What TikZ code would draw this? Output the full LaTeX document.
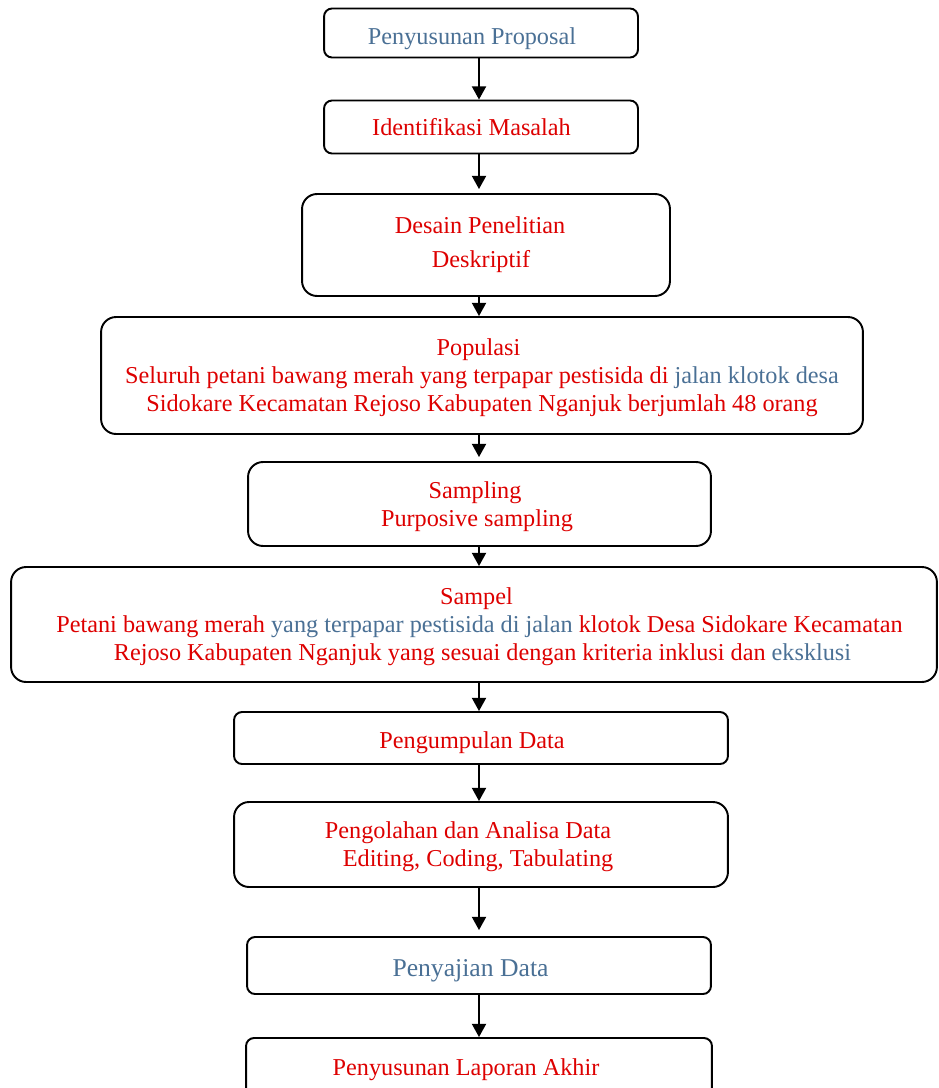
\documentclass[tikz,border=0pt]{standalone}
\usepackage{fontspec}
\setmainfont{Liberation Serif}
\usepackage{tikz}
\usetikzlibrary{arrows.meta}
\usepackage{xcolor}
\definecolor{textred}{HTML}{DD0000}
\definecolor{textblue}{HTML}{4A7095}

\begin{document}
\begin{tikzpicture}[x=0.02cm,y=-0.02cm,
  stepbox/.style={draw,line width=1.1pt,rounded corners=0.16cm,inner sep=0pt,align=center,text=textred,
    font=\fontsize{13.8}{15.9}\selectfont},
  widebox/.style={stepbox,rounded corners=0.3cm},
  flow/.style={-{Triangle[length=7.5pt,width=8pt]},line width=1pt}]
\useasboundingbox (0,0) rectangle (939,1088);
\coordinate (spine) at (479,0);
% boxes, top to bottom
\node[stepbox,minimum width=6.28cm,minimum height=0.98cm] (proposal) at (481,33) {\raisebox{-0.12cm}[\height][\depth]{\textcolor{textblue}{Penyusunan Proposal}}\hspace*{0.36cm}};
\node[stepbox,minimum width=6.28cm,minimum height=1.06cm] (masalah) at (481,127) {Identifikasi Masalah\hspace*{0.38cm}};
\node[widebox,minimum width=7.36cm,minimum height=2.04cm] (desain) at (486,245) {Desain Penelitian\hspace*{0.24cm}\\[0.12cm] Deskriptif\hspace*{0.2cm}};
\node[widebox,text depth=-0.02cm,minimum width=15.24cm,minimum height=2.34cm] (populasi) at (482,375.5)
  {Populasi\hspace*{0.14cm}\\ Seluruh petani bawang merah yang terpapar pestisida di \textcolor{textblue}{jalan klotok desa}\\ Sidokare Kecamatan Rejoso Kabupaten Nganjuk berjumlah 48 orang};
\node[widebox,text depth=-0.08cm,minimum width=9.26cm,minimum height=1.68cm] (sampling) at (479.5,504) {Sampling\hspace*{0.18cm}\\ Purposive sampling\hspace*{0.1cm}};
\node[widebox,text depth=-0.08cm,minimum width=18.52cm,minimum height=2.3cm] (sampel) at (474,624.5)
  {\hspace*{0.1cm}Sampel\\ \hspace*{0.22cm}Petani bawang merah \textcolor{textblue}{yang terpapar pestisida di jalan} klotok Desa Sidokare Kecamatan\\ \hspace*{0.34cm}Rejoso Kabupaten Nganjuk yang sesuai dengan kriteria inklusi dan \textcolor{textblue}{eksklusi}};
\node[stepbox,minimum width=9.88cm,minimum height=1.04cm] (kumpul) at (481,738) {\raisebox{-0.1cm}[\height][\depth]{Pengumpulan Data}\hspace*{0.36cm}};
\node[widebox,text depth=-0.08cm,minimum width=9.88cm,minimum height=1.7cm] (olah) at (481,844.5) {Pengolahan dan Analisa Data\hspace*{0.52cm}\\ \hspace*{0.4cm}Editing, Coding, Tabulating\hspace*{0.52cm}};
\node[stepbox,font=\fontsize{14.6}{15.9}\selectfont,minimum width=9.28cm,minimum height=1.14cm] (saji) at (479,965.5) {\raisebox{-0.1cm}[\height][\depth]{\textcolor{textblue}{Penyajian Data}}\hspace*{0.34cm}};
\node[stepbox,minimum width=9.32cm,minimum height=1.14cm] (laporan) at (479,1066.5) {\raisebox{-0.06cm}[\height][\depth]{Penyusunan Laporan Akhir}\hspace*{0.52cm}};
% arrows
\foreach \a/\b/\gap in {proposal/masalah/0,masalah/desain/0.08,desain/populasi/0,populasi/sampling/0.08,sampling/sampel/0,sampel/kumpul/0,kumpul/olah/0,olah/saji/0.12,saji/laporan/0}
  \draw[flow,shorten >=\gap cm] (\a.south -| spine) -- (\b.north -| spine);
\end{tikzpicture}
\end{document}
